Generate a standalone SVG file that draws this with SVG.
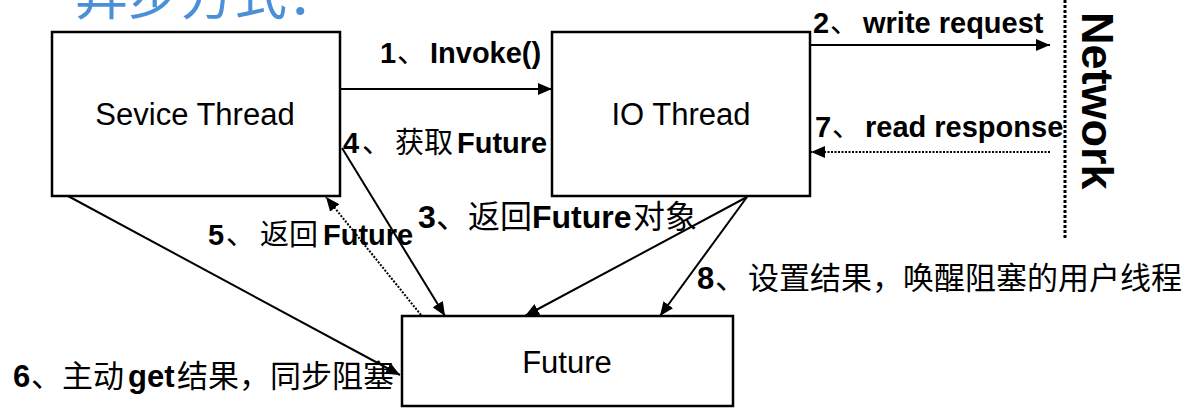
<svg xmlns="http://www.w3.org/2000/svg" width="1192" height="408" viewBox="0 0 1192 408">
<style>
.box{fill:#fff;stroke:#000;stroke-width:2.5}
.nl{font-family:"Liberation Sans",Arial,sans-serif;font-size:31px;fill:#000;text-anchor:middle}
.el{font-family:"Liberation Sans","Noto Sans CJK SC",sans-serif;fill:#000}
.b{font-weight:bold}
.cj{font-family:"Noto Sans CJK SC",sans-serif;font-weight:normal}
.ln{stroke:#000;stroke-width:2;fill:none}
.dot{stroke:#000;stroke-width:2;fill:none;stroke-dasharray:2 1.5}
</style>
<defs>
<marker id="ah" viewBox="0 0 14 12" refX="14" refY="6" markerWidth="14" markerHeight="12" markerUnits="userSpaceOnUse" orient="auto"><path d="M0,0 L14,6 L0,12 z" fill="#000"/></marker>
</defs>
<rect width="1192" height="408" fill="#fff"/>
<text x="75" y="15" font-family="Noto Sans CJK SC,sans-serif" font-size="53" fill="#4a90d9">异步方式：</text>

<g id="sevice-thread"><rect class="box" x="52" y="32" width="288" height="164"/><text class="nl" x="195" y="125">Sevice Thread</text></g>
<g id="io-thread"><rect class="box" x="552" y="32" width="258" height="164"/><text class="nl" x="681" y="125">IO Thread</text></g>
<g id="future"><rect class="box" x="402" y="316" width="331" height="90"/><text class="nl" x="567" y="373">Future</text></g>
<g id="network">
<line x1="1065" y1="0" x2="1065" y2="240" stroke="#000" stroke-width="3" stroke-dasharray="3 2"/>
<text x="1082" y="12" transform="rotate(90 1082 12)" font-family="Liberation Sans,Arial,sans-serif" font-size="45" font-weight="bold" fill="#000">Network</text>
</g>

<g id="connectors">
<line class="ln" x1="340" y1="89" x2="552" y2="89" marker-end="url(#ah)"/>
<line class="ln" x1="810" y1="45" x2="1050" y2="45" marker-end="url(#ah)"/>
<line class="dot" x1="1050" y1="152" x2="811" y2="152" marker-end="url(#ah)"/>
<line class="ln" x1="747" y1="197" x2="525" y2="316" marker-end="url(#ah)"/>
<line class="ln" x1="342" y1="148" x2="445" y2="316" marker-end="url(#ah)"/>
<line class="dot" x1="421" y1="315" x2="326" y2="197" marker-end="url(#ah)"/>
<line class="ln" x1="68" y1="196" x2="400" y2="375" marker-end="url(#ah)"/>
<line class="ln" x1="747" y1="197" x2="660" y2="316" marker-end="url(#ah)"/>
</g>

<g id="labels">
<text class="el" y="63" font-size="29"><tspan class="b" x="380">1</tspan><tspan class="cj" x="397">、</tspan><tspan class="b" x="430">Invoke()</tspan></text>
<text class="el" y="33" font-size="29"><tspan class="b" x="813">2</tspan><tspan class="cj" x="830">、</tspan><tspan class="b" x="863">write request</tspan></text>
<text class="el" y="137" font-size="29"><tspan class="b" x="815">7</tspan><tspan class="cj" x="832">、</tspan><tspan class="b" x="865">read response</tspan></text>
<text class="el" y="153" font-size="29"><tspan class="b" x="343">4</tspan><tspan class="cj" x="362">、</tspan><tspan class="cj" x="395">获取</tspan><tspan class="b" x="457">Future</tspan></text>
<text class="el" y="228" font-size="32"><tspan class="b" x="418">3</tspan><tspan class="cj" x="436">、返回</tspan><tspan class="b" x="532">Future</tspan><tspan class="cj" x="633">对象</tspan></text>
<text class="el" y="245" font-size="29"><tspan class="b" x="208">5</tspan><tspan class="cj" x="226">、</tspan><tspan class="cj" x="260">返回</tspan><tspan class="b" x="323">Future</tspan></text>
<text class="el" y="387" font-size="31"><tspan class="b" x="13">6</tspan><tspan class="cj" x="31">、主动</tspan><tspan class="b" x="128">get</tspan><tspan class="cj" x="177">结果，</tspan><tspan class="cj" x="270">同步阻塞</tspan></text>
<text class="el" y="289" font-size="31"><tspan class="b" x="697">8</tspan><tspan class="cj" x="715">、</tspan><tspan class="cj" x="748">设置结果，唤醒阻塞的用户线程</tspan></text>
</g>
</svg>
